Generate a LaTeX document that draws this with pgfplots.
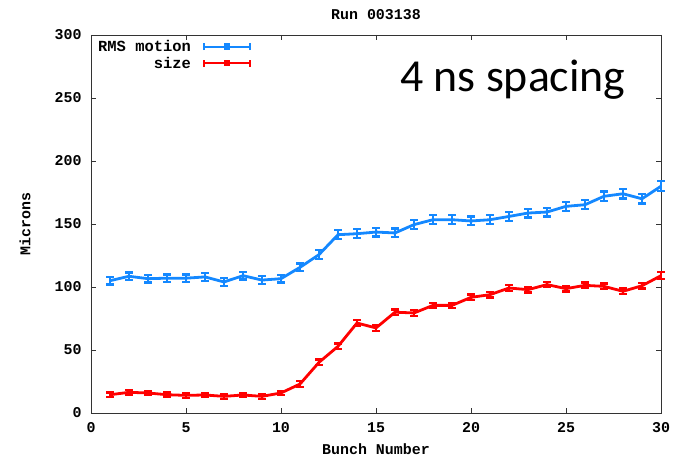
\documentclass[border=0pt]{standalone}
\usepackage{fontspec}
\usepackage{pgfplots}
\usepackage{pgfplotstable}
\pgfplotsset{compat=1.18}
\newfontfamily\gpfont{Liberation Mono}
\newfontfamily\calfont{Carlito}
\definecolor{gpblue}{RGB}{20,136,255}
\definecolor{gpred}{RGB}{255,0,0}

\pgfplotstableread{
x y e
1 105 3
2 108.5 3
3 106.6 3
4 107 3
5 107 3
6 108 3
7 104 3
8 109 3
9 105.5 3
10 106.6 3
11 115.6 3
12 125.7 3.5
13 141.5 3.5
14 142.3 3.5
15 143.6 3.5
16 142.9 3.5
17 149.5 3.5
18 153.4 3.5
19 153.4 3.5
20 152.4 3.5
21 153.4 3.5
22 156 3.5
23 158.7 3.5
24 159.5 3.5
25 164 3.5
26 165.3 3.5
27 172 3.8
28 174 3.8
29 170 3.8
30 180 4
}\rms

\pgfplotstableread{
x y e
1 14.5 1.8
2 16.4 1.8
3 15.9 1.8
4 14.5 1.8
5 14 1.8
6 14.3 1.8
7 13.2 1.8
8 14.3 1.8
9 13.2 1.8
10 15.9 1.8
11 23 2.2
12 40.2 2.2
13 52.9 2.2
14 71.4 2.2
15 67.5 2.2
16 80 2.2
17 79.4 2.2
18 85.4 2.2
19 85.4 2.2
20 91.8 2.2
21 93.9 2.2
22 99.2 2.2
23 97.9 2.2
24 101.9 2.2
25 98.7 2.2
26 101.3 2.2
27 100.5 2.2
28 96.6 2.2
29 101 2.2
30 109 2.6
}\sizedata

\begin{document}
\begin{tikzpicture}
\begin{axis}[
  name=ax,
  scale only axis,
  width=570bp, height=378bp,
  xmin=0, xmax=30, ymin=0, ymax=300,
  xtick={0,5,...,30},
  ytick={0,50,...,300},
  tick align=inside,
  major tick length=5bp,
  minor tick num=0,
  axis line style={line width=0.8bp, black!80},
  every tick/.style={line width=0.8bp, black!80},
  /pgf/number format/assume math mode=true,
  ticklabel style={font=\gpfont\bfseries\fontsize{15}{17}\selectfont},
  xticklabel style={yshift=-6bp},
  yticklabel style={xshift=-6bp},
  title={Run 003138},
  title style={font=\gpfont\bfseries\fontsize{15}{17}\selectfont, at={(axis description cs:0.5,1)}, anchor=center, yshift=14bp},
  xlabel={Bunch Number},
  xlabel style={font=\gpfont\bfseries\fontsize{15}{17}\selectfont, at={(axis description cs:0.5,0)}, anchor=center, yshift=-36bp},
  ylabel={Microns},
  ylabel style={font=\gpfont\bfseries\fontsize{15}{17}\selectfont, at={(axis description cs:0,0.5)}, anchor=center, yshift=66bp},
  legend plot pos=right,
  legend cell align=right,
  legend style={draw=none, fill=none, at={(axis description cs:0,1)}, anchor=north west, xshift=3bp, yshift=-1bp,
    font=\gpfont\bfseries\fontsize{15.5}{16}\selectfont, row sep=0bp, inner sep=2bp,
    /tikz/every odd column/.append style={column sep=10bp}},
  legend image code/.code={
    \draw[#1, mark=none, line width=2bp] (0bp,0bp) -- (46bp,0bp);
    \draw[#1, mark=none, line width=2bp] (0bp,-3.5bp) -- (0bp,3.5bp) (46bp,-3.5bp) -- (46bp,3.5bp);
    \fill[#1] (21.5bp,-1.7bp) rectangle (24.5bp,1.7bp);
  },
  clip=false,
]
\addplot[gpblue, line width=2.8bp, mark=none,
  error bars/.cd, y dir=both, y explicit,
  error bar style={line width=2.4bp, gpblue},
  error mark options={line width=2.2bp, mark size=3.6bp, gpblue, rotate=90}]
  table[x=x, y=y, y error=e] {\rms};
\addlegendentry{RMS motion}
\addplot[gpred, line width=2.8bp, mark=none,
  error bars/.cd, y dir=both, y explicit,
  error bar style={line width=2.4bp, gpred},
  error mark options={line width=2.2bp, mark size=3.6bp, gpred, rotate=90}]
  table[x=x, y=y, y error=e] {\sizedata};
\addlegendentry{size}
\node[anchor=base west, inner sep=0pt, font=\calfont\fontsize{46}{50}\selectfont] at (axis cs:16.26,254.8) {4 ns spacing};
\end{axis}
\path (ax.south west) ++(-91bp,-44bp) coordinate (bbA);
\path (ax.north east) ++(24bp,35bp) coordinate (bbB);
\path[use as bounding box] (bbA) rectangle (bbB);
\end{tikzpicture}
\end{document}
